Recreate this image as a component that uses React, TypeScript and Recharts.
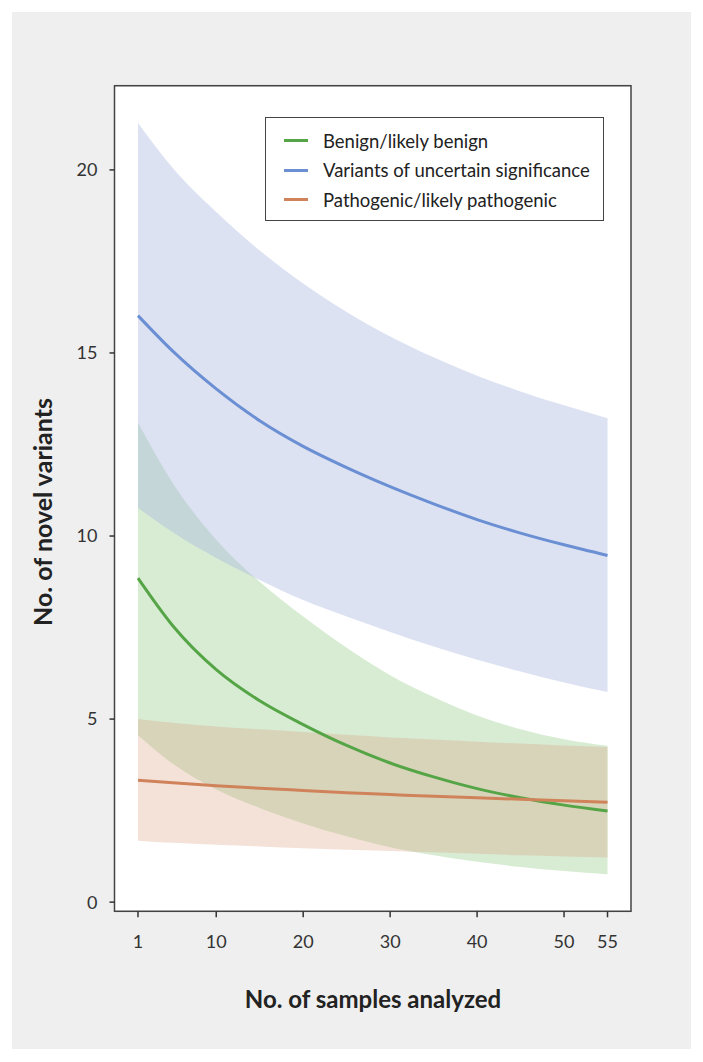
import {
  Area,
  CartesianGrid,
  ComposedChart,
  Line,
  ReferenceArea,
  XAxis,
  YAxis,
} from 'recharts'

const samples = [1, 5, 10, 15, 20, 25, 30, 35, 40, 45, 50, 55]

const benignMean = [8.85, 7.55, 6.35, 5.5, 4.85, 4.28, 3.8, 3.42, 3.1, 2.85, 2.65, 2.49]
const benignHigh = [13.1, 11.45, 9.9, 8.75, 7.8, 6.95, 6.2, 5.6, 5.1, 4.72, 4.45, 4.27]
const benignLow = [4.56, 3.78, 3.08, 2.57, 2.15, 1.8, 1.5, 1.28, 1.1, 0.96, 0.85, 0.76]

const vusMean = [16.02, 15.05, 14.02, 13.15, 12.45, 11.87, 11.35, 10.88, 10.45, 10.08, 9.76, 9.47]
const vusHigh = [21.28, 20.05, 18.85, 17.8, 16.9, 16.12, 15.45, 14.88, 14.38, 13.95, 13.57, 13.22]
const vusLow = [10.77, 10.1, 9.4, 8.8, 8.25, 7.8, 7.38, 6.98, 6.62, 6.3, 6.0, 5.74]

const pathoMean = [3.33, 3.26, 3.18, 3.11, 3.05, 2.99, 2.94, 2.89, 2.85, 2.81, 2.77, 2.73]
const pathoHigh = [5.0, 4.9, 4.8, 4.72, 4.65, 4.57, 4.5, 4.44, 4.38, 4.33, 4.28, 4.24]
const pathoLow = [1.68, 1.62, 1.57, 1.52, 1.47, 1.43, 1.4, 1.36, 1.32, 1.28, 1.25, 1.22]

const xTicks = [1, 10, 20, 30, 40, 50, 55]
const yTicks = [0, 5, 10, 15, 20]

const legendItems = [
  { label: 'Benign/likely benign', color: '#55a546' },
  { label: 'Variants of uncertain significance', color: '#6b8fd3' },
  { label: 'Pathogenic/likely pathogenic', color: '#d0835a' },
]

const data = samples.map((n, i) => ({
  n,
  bMean: benignMean[i],
  bBand: [benignLow[i], benignHigh[i]],
  vMean: vusMean[i],
  vBand: [vusLow[i], vusHigh[i]],
  pMean: pathoMean[i],
  pBand: [pathoLow[i], pathoHigh[i]],
}))

const font = 'Lato, "Open Sans", sans-serif'

function LegendBox() {
  return (
    <div
      style={{
        position: 'absolute',
        left: 265,
        top: 117,
        width: 339,
        height: 104,
        border: '1.5px solid #444',
        background: '#fff',
        boxSizing: 'border-box',
        paddingTop: 8,
        fontFamily: font,
        fontSize: 18.5,
        color: '#222',
      }}
    >
      {legendItems.map((item) => (
        <div key={item.label} style={{ display: 'flex', alignItems: 'center', height: 29.5 }}>
          <span
            style={{
              display: 'inline-block',
              width: 24,
              height: 3,
              background: item.color,
              marginLeft: 18,
              marginRight: 15,
            }}
          />
          <span>{item.label}</span>
        </div>
      ))}
    </div>
  )
}

export default function App() {
  return (
    <div style={{ position: 'absolute', left: 0, top: 0, width: 703, height: 1062, background: '#fff' }}>
      <div
        style={{
          position: 'absolute',
          left: 12,
          top: 12,
          width: 679,
          height: 1037,
          background: '#eeefee',
        }}
      />
      <div style={{ position: 'absolute', left: 0, top: 0 }}>
        <ComposedChart
          width={703}
          height={1062}
          data={data}
          margin={{ top: 85.7, right: 72, bottom: 90.7, left: 14.5 }}
        >
          <ReferenceArea
            x1={-1.7}
            x2={57.7}
            y1={-0.25}
            y2={22.3}
            fill="#fff"
            fillOpacity={1}
            stroke="#444"
            strokeWidth={1.5}
          />
          <CartesianGrid vertical={false} stroke="#c6c6c6" strokeWidth={2} />
          <XAxis
            dataKey="n"
            type="number"
            domain={[-1.7, 57.7]}
            ticks={xTicks}
            allowDataOverflow
            axisLine={false}
            tickLine={{ stroke: '#333', strokeWidth: 1.5 }}
            tickSize={6}
            tickMargin={18}
            height={60}
            tick={{ fill: '#333', fontSize: 18, fontFamily: font }}
          />
          <YAxis
            type="number"
            domain={[-0.25, 22.3]}
            ticks={yTicks}
            allowDataOverflow
            axisLine={false}
            tickLine={{ stroke: '#333', strokeWidth: 1.5 }}
            tickSize={5}
            tickMargin={12}
            width={100}
            tick={{ fill: '#333', fontSize: 18, fontFamily: font }}
          />
          <Area
            dataKey="bBand"
            type="monotone"
            stroke="none"
            fill="#7dc070"
            fillOpacity={0.3}
            isAnimationActive={false}
            activeDot={false}
          />
          <Area
            dataKey="vBand"
            type="monotone"
            stroke="none"
            fill="#a6b3df"
            fillOpacity={0.38}
            isAnimationActive={false}
            activeDot={false}
          />
          <Area
            dataKey="pBand"
            type="monotone"
            stroke="none"
            fill="#d99b79"
            fillOpacity={0.29}
            isAnimationActive={false}
            activeDot={false}
          />
          <Line
            dataKey="bMean"
            type="monotone"
            stroke="#55a546"
            strokeWidth={3}
            dot={false}
            isAnimationActive={false}
          />
          <Line
            dataKey="vMean"
            type="monotone"
            stroke="#6b8fd3"
            strokeWidth={3}
            dot={false}
            isAnimationActive={false}
          />
          <Line
            dataKey="pMean"
            type="monotone"
            stroke="#d0835a"
            strokeWidth={3}
            dot={false}
            isAnimationActive={false}
          />
        </ComposedChart>
      </div>
      <LegendBox />
      <div
        style={{
          position: 'absolute',
          left: 0,
          top: 984,
          width: 746,
          textAlign: 'center',
          fontFamily: font,
          fontWeight: 700,
          fontSize: 24,
          color: '#222',
        }}
      >
        No. of samples analyzed
      </div>
      <div
        style={{
          position: 'absolute',
          left: 42,
          top: 512,
          transform: 'translate(-50%, -50%) rotate(-90deg)',
          whiteSpace: 'nowrap',
          fontFamily: font,
          fontWeight: 700,
          fontSize: 25,
          color: '#222',
        }}
      >
        No. of novel variants
      </div>
    </div>
  )
}
